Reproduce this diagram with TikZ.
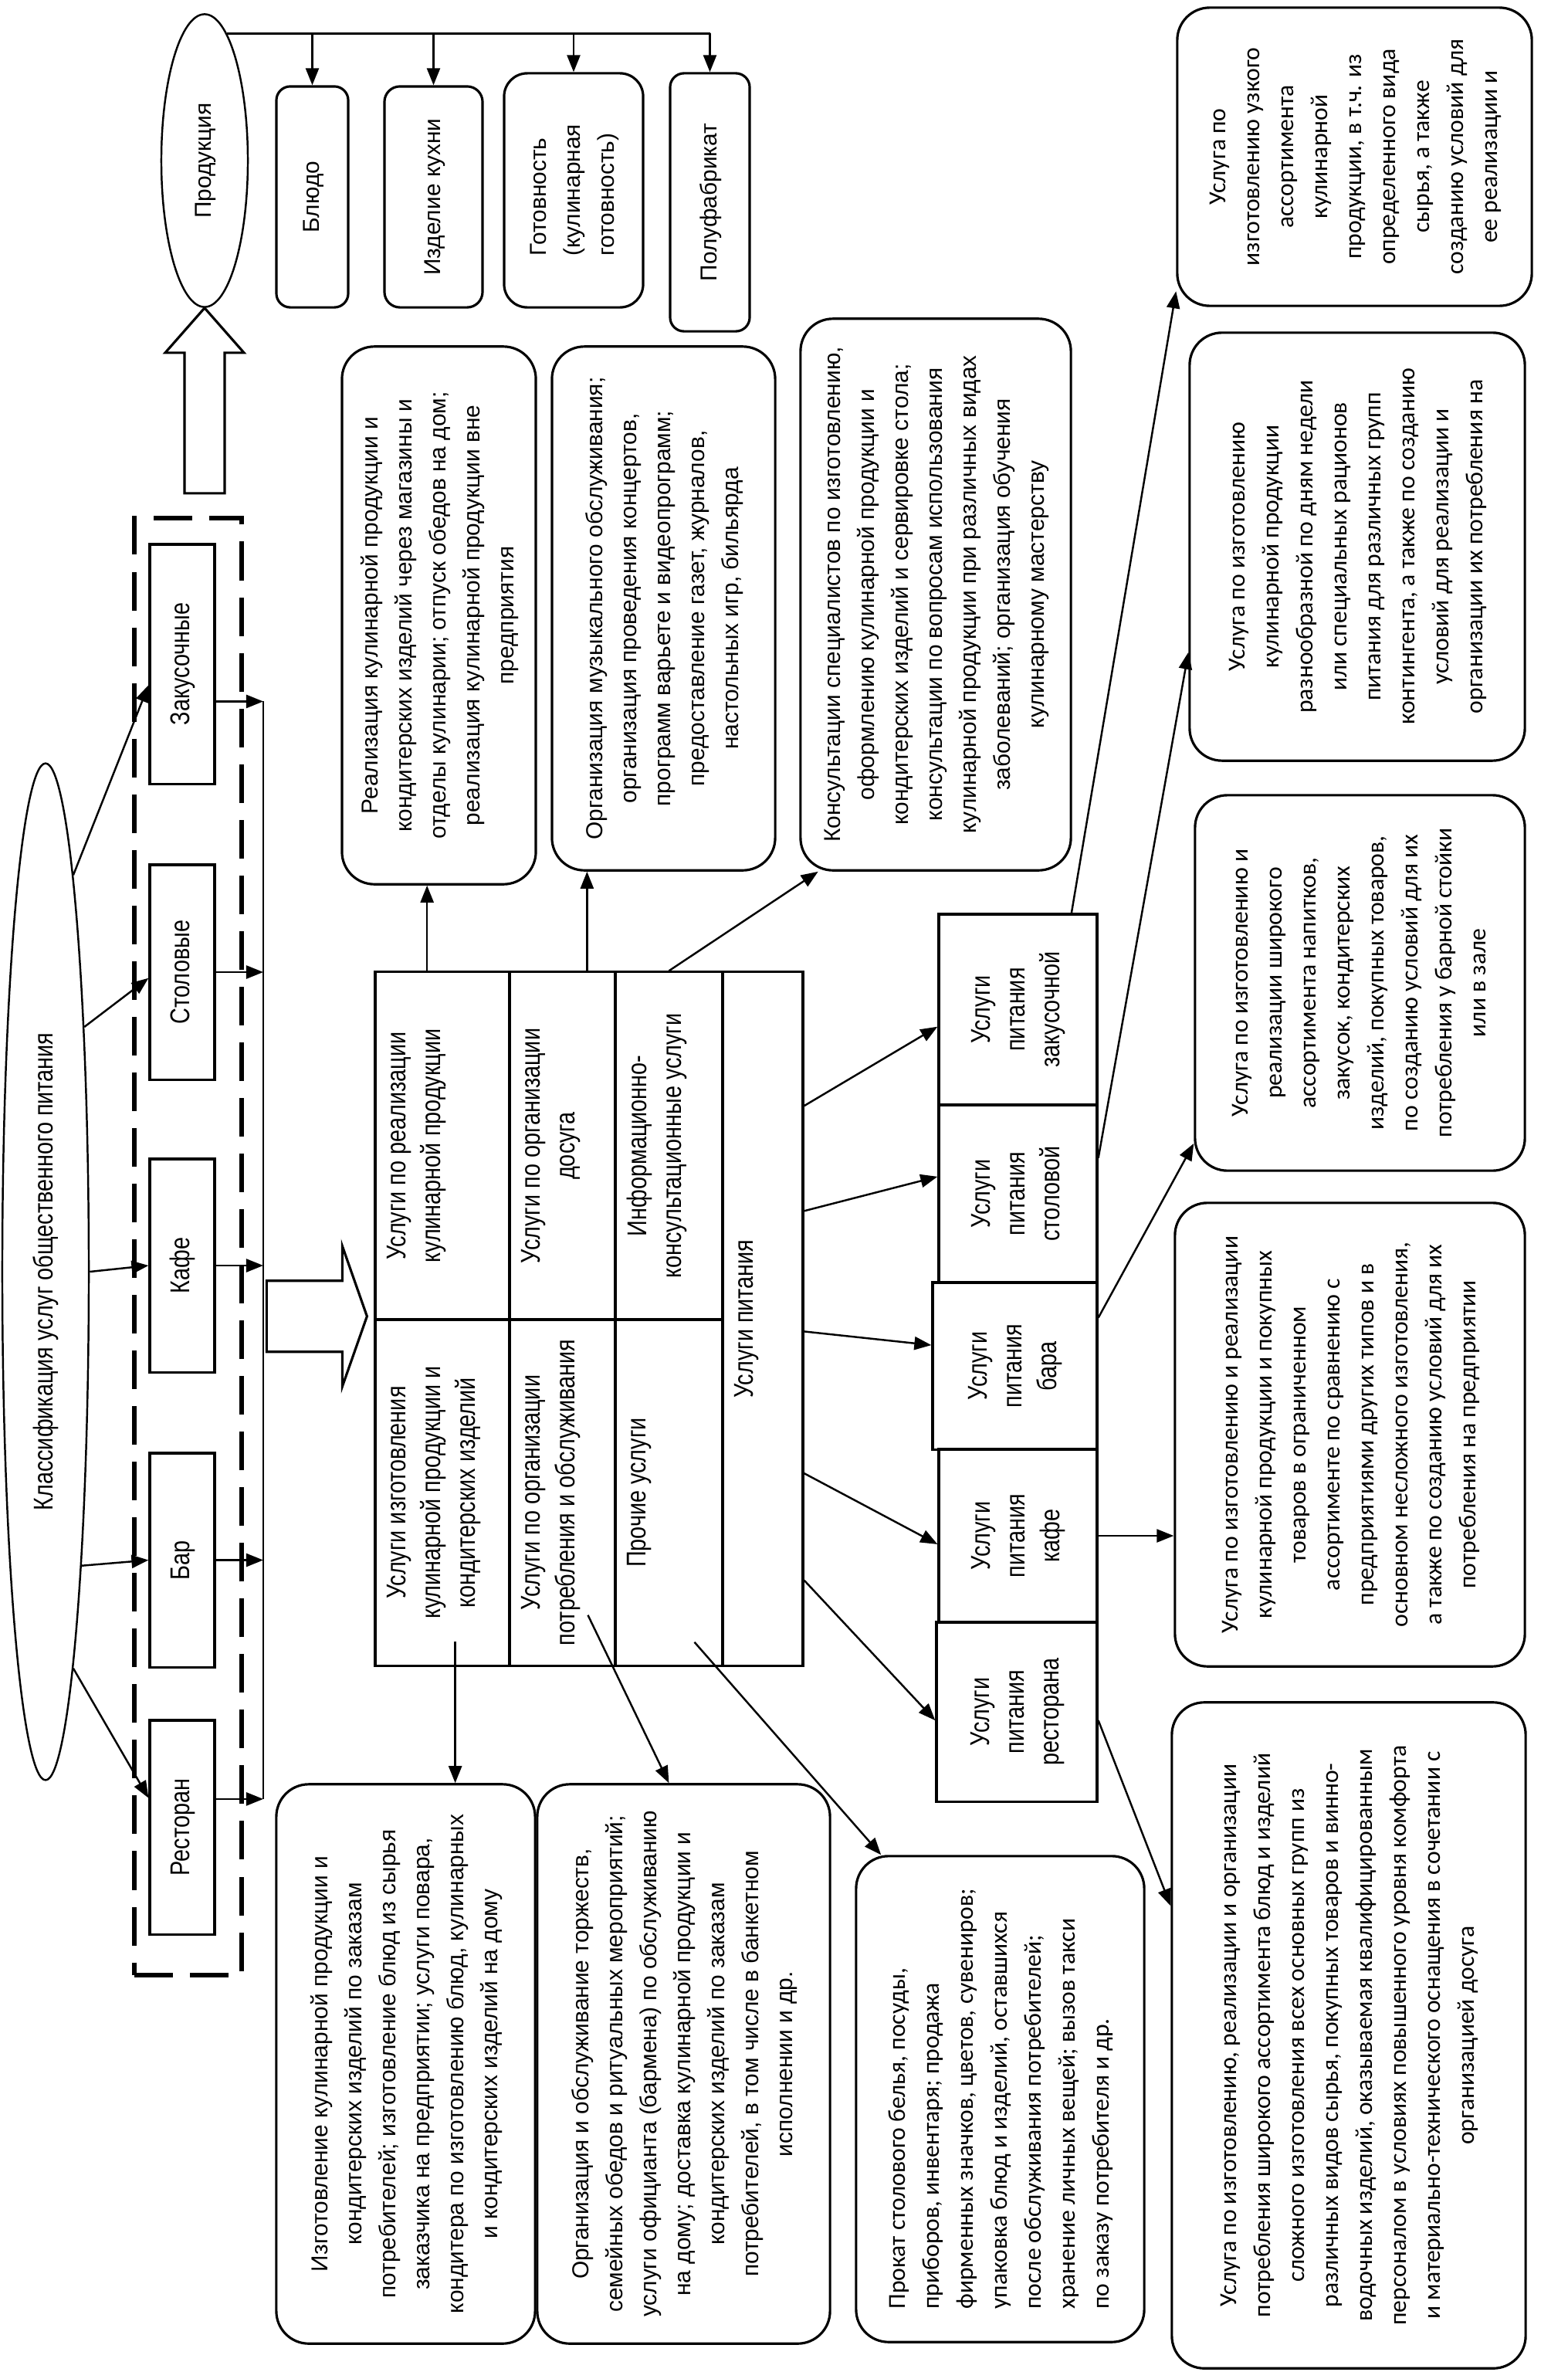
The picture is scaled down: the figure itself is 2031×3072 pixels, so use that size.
\documentclass[tikz,border=0pt]{standalone}
\usepackage{fontspec}
\usepackage{graphicx}
\setmainfont{Liberation Sans}
\newfontfamily\narrowfont[FakeStretch=0.82]{Liberation Sans}
\newfontfamily\califont{Carlito}
\usetikzlibrary{arrows.meta,shapes.geometric,calc}

\newcommand{\vlab}[2][c]{\rotatebox{90}{\begin{tabular}{@{}#1@{}}#2\end{tabular}}}
\newcommand{\vcell}[3]{\rotatebox{90}{\parbox[c][#2][t]{#1}{\centering\vspace*{0.15cm}#3}}}

\begin{document}
\begin{tikzpicture}[x=0.01cm, y=-0.01cm,
  rect/.style={draw, line width=0.9pt, inner sep=0pt},
  rbox/.style={rect, rounded corners=0.42cm},
  arial/.style={font=\fontsize{8.5}{12.5}\selectfont},
  calib/.style={font=\califont\fontsize{9}{12.5}\selectfont},
  narrow/.style={font=\narrowfont\fontsize{10}{12.8}\selectfont},
  oval/.style={draw, ellipse, line width=0.7pt, inner sep=0pt},
  link/.style={line width=0.7pt, -{Triangle[length=0.22cm,width=0.17cm]}},
  hollow/.style={draw, line width=0.9pt, fill=white},
  grpbox/.style={draw, line width=1.7pt, dash pattern=on 0.5cm off 0.22cm, inner sep=0pt}]

 \useasboundingbox (0,0) rectangle (2031,3072);

 % classification
 \node[oval, narrow, minimum width=1.12cm, minimum height=13.16cm] (klass) at (59,1647) {\vlab{Классификация услуг общественного питания}};
 \node[grpbox, minimum width=1.39cm, minimum height=18.85cm] (grp) at (243.5,1614.5) {};

 \foreach \n/\y/\h/\t in {zak/860/3.10cm/Закусочные, stol/1259/2.78cm/Столовые, kafe/1639/2.76cm/Кафе, bar/2020.5/2.77cm/Бар, rest/2366.5/2.77cm/Ресторан} {
   \node[rect, narrow, minimum width=0.84cm, minimum height=\h] (\n) at (236,\y) {\vlab{\t}};
 }

 \foreach \a/\n/\b in {86/zak/212, 81/stol/190, 0/kafe/180, -83/bar/180, -86/rest/139}
   \draw[link] (klass.\a) -- (\n.\b);

 % collector line
 \coordinate (bus) at (341,0);
 \foreach \n/\a in {zak/-48, stol/0, kafe/0, bar/0, rest/40}
   \draw[link] (\n.\a) -- (\n.\a -| bus);
 \draw[line width=0.7pt] (zak.-48 -| bus) -- (rest.40 -| bus);

 % products
 \node[oval, arial, minimum width=1.12cm, minimum height=3.79cm] (prod) at (265,208) {\vlab{Продукция}};
 \node[rbox, arial, rounded corners=0.18cm, minimum width=0.93cm, minimum height=2.86cm] (bl) at (404.5,255) {\vlab{Блюдо}};
 \node[rbox, arial, rounded corners=0.2cm, minimum width=1.27cm, minimum height=2.86cm] (izd) at (561.5,255) {\vlab{Изделие кухни}};
 \node[rbox, arial, rounded corners=0.3cm, minimum width=1.80cm, minimum height=3.03cm] (got) at (743,246.5) {\vlab[l]{Готовность\\(кулинарная\\готовность)}};
 \node[rbox, arial, rounded corners=0.18cm, minimum width=1.03cm, minimum height=3.34cm] (pf) at (919.5,262) {\vlab{Полуфабрикат}};

 \draw[line width=0.7pt] (prod.80) -- (pf.north |- prod.80);
 \foreach \n in {bl, izd, got, pf}
   \draw[link] (\n.north |- prod.80) -- (\n.north);

 \draw[hollow] (prod.south) -- ++(51,58) -- ++(-25,0) -- ++(0,182) -- ++(-52,0) -- ++(0,-182) -- ++(-25,0) -- cycle;

 % table
 \node[rect, narrow] (c1t) at (573,1484) {\vcell{4.50cm}{1.74cm}{Услуги по реализации\\кулинарной продукции}};
 \node[rect, narrow] (c1b) at (573,1933) {\vcell{4.48cm}{1.74cm}{Услуги изготовления\\кулинарной продукции и\\кондитерских изделий}};
 \node[rect, narrow] (c2t) at (728.5,1484) {\vcell{4.50cm}{1.37cm}{Услуги по организации\\досуга}};
 \node[rect, narrow] (c2b) at (728.5,1933) {\vcell{4.48cm}{1.37cm}{Услуги по организации\\потребления и обслуживания}};
 \node[rect, narrow] (c3t) at (866.5,1484) {\vcell{4.50cm}{1.39cm}{Информационно-\\консультационные услуги}};
 \node[rect, narrow] (c3b) at (866.5,1933) {\vcell{4.48cm}{1.39cm}{Прочие услуги}};
 \node[rect, narrow] (c4) at (988,1708) {\vcell{8.98cm}{1.04cm}{Услуги питания}};

 \draw[hollow] ($(c1t.south west)+(-9,-6)$) -- ++(-32,-91) -- ++(0,45) -- ++(-98,0) -- ++(0,92) -- ++(98,0) -- ++(0,45) -- cycle;

 % upper boxes
 \node[rbox, arial, minimum width=2.51cm, minimum height=6.96cm] (real) at (568.5,797) {\vlab{Реализация кулинарной продукции и\\кондитерских изделий через магазины и\\отделы кулинарии; отпуск обедов на дом;\\реализация кулинарной продукции вне\\предприятия}};
 \node[rbox, arial, minimum width=2.89cm, minimum height=6.78cm] (dosug) at (859.5,788) {\vlab{Организация музыкального обслуживания;\\организация проведения концертов,\\программ варьете и видеопрограмм;\\предоставление газет, журналов,\\настольных игр, бильярда}};
 \node[rbox, arial, minimum width=3.50cm, minimum height=7.14cm] (kons) at (1212,770) {\vlab{Консультации специалистов по изготовлению,\\оформлению кулинарной продукции и\\кондитерских изделий и сервировке стола;\\консультации по вопросам использования\\кулинарной продукции при различных видах\\заболеваний; организация обучения\\кулинарному мастерству}};

 % lower boxes
 \node[rbox, arial, minimum width=3.35cm, minimum height=7.24cm] (izgb) at (525.5,2673) {\vlab{Изготовление кулинарной продукции и\\кондитерских изделий по заказам\\потребителей; изготовление блюд из сырья\\заказчика на предприятии; услуги повара,\\кондитера по изготовлению блюд, кулинарных\\и кондитерских изделий на дому}};
 \node[rbox, arial, minimum width=3.79cm, minimum height=7.24cm] (orgb) at (885.5,2673) {\vlab{Организация и обслуживание торжеств,\\семейных обедов и ритуальных мероприятий;\\услуги официанта (бармена) по обслуживанию\\на дому; доставка кулинарной продукции и\\кондитерских изделий по заказам\\потребителей, в том числе в банкетном\\исполнении и др.}};
 \node[rbox, calib, minimum width=3.73cm, minimum height=6.29cm] (prok) at (1295.5,2718.5) {\vlab[l]{Прокат столового белья, посуды,\\приборов, инвентаря; продажа\\фирменных значков, цветов, сувениров;\\упаковка блюд и изделий, оставшихся\\после обслуживания потребителей;\\хранение личных вещей; вызов такси\\по заказу потребителя и др.}};

 % catering column
 \foreach \n/\x/\y/\w/\h/\t in {pz/1318.5/1307.5/2.05cm/2.47cm/закусочной, ps/1318.5/1546/2.05cm/2.30cm/столовой, pb/1314.5/1769/2.13cm/2.16cm/бара, pk/1318.5/1989/2.05cm/2.24cm/кафе, pr/1317/2217/2.08cm/2.32cm/ресторана} {
   \node[rect, narrow, minimum width=\w, minimum height=\h] (\n) at (\x,\y) {\vlab{Услуги\\питания\\\t}};
 }

 % right boxes
 \node[rbox, calib, minimum width=4.59cm, minimum height=3.86cm] (uz) at (1754.5,203) {\vlab{Услуга по\\изготовлению узкого\\ассортимента\\кулинарной\\продукции, в т.ч. из\\определенного вида\\сырья, а также\\созданию условий для\\ее реализации и}};
 \node[rbox, calib, minimum width=4.34cm, minimum height=5.54cm] (raz) at (1758,708) {\vlab{Услуга по изготовлению\\кулинарной продукции\\разнообразной по дням недели\\или специальных рационов\\питания для различных групп\\контингента, а также по созданию\\условий для реализации и\\организации их потребления на}};
 \node[rbox, calib, minimum width=4.27cm, minimum height=4.86cm] (barb) at (1761.5,1273) {\vlab{Услуга по изготовлению и\\реализации широкого\\ассортимента напитков,\\закусок, кондитерских\\изделий, покупных товаров,\\по созданию условий для их\\потребления у барной стойки\\или в зале}};
 \node[rbox, calib, minimum width=4.53cm, minimum height=6.00cm] (cafb) at (1748.5,1858) {\vlab{Услуга по изготовлению и реализации\\кулинарной продукции и покупных\\товаров в ограниченном\\ассортименте по сравнению с\\предприятиями других типов и в\\основном несложного изготовления,\\а также по созданию условий для их\\потребления на предприятии}};
 \node[rbox, calib, minimum width=4.58cm, minimum height=8.62cm] (restb) at (1747,2636) {\vlab{Услуга по изготовлению, реализации и организации\\потребления широкого ассортимента блюд и изделий\\сложного изготовления всех основных групп из\\различных видов сырья, покупных товаров и винно-\\водочных изделий, оказываемая квалифицированным\\персоналом в условиях повышенного уровня комфорта\\и материально-технического оснащения в сочетании с\\организацией досуга}};

 % lines
 \draw[link] (c1t.95) -- (c1t.95 |- real.south);
 \draw[link] (c2t.82) -- (c2t.82 |- dosug.south);
 \draw[link] (c3t.north) -- (kons.247);
 \draw[link] ($(c1b.south -| izgb.80)+(0,-33)$) -- (izgb.80);
 \draw[link] ($(c2b.south)+(33,-67)$) -- (orgb.93);
 \draw[link] ($(c3b.south)+(33,-32)$) -- (prok.116);

 \foreach \a/\n/\b in {79/pz/192, 69/ps/168, -17/pb/166, -75/pk/186, -81/pr/186}
   \draw[link] (c4.\a) -- (\n.\b);

 \draw[link] (pz.61) -- (uz.217);
 \draw[link] (ps.24) -- (raz.212);
 \draw[link] (pb.30) -- (barb.224);
 \draw[link] (pk.east) -- (pk.east -| cafb.west);
 \draw[link] (pr.-6) -- (restb.144);

\end{tikzpicture}
\end{document}
